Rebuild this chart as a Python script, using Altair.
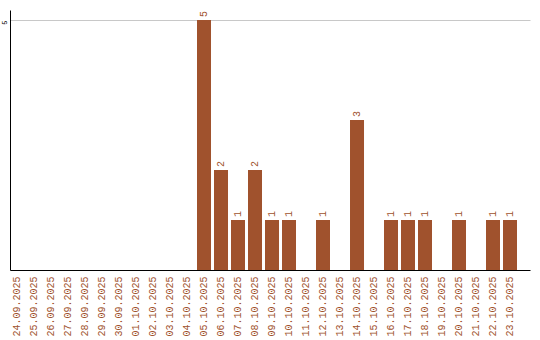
import altair as alt
import pandas as pd

dates = ["24.09.2025", "25.09.2025", "26.09.2025", "27.09.2025", "28.09.2025",
         "29.09.2025", "30.09.2025", "01.10.2025", "02.10.2025", "03.10.2025",
         "04.10.2025", "05.10.2025", "06.10.2025", "07.10.2025", "08.10.2025",
         "09.10.2025", "10.10.2025", "11.10.2025", "12.10.2025", "13.10.2025",
         "14.10.2025", "15.10.2025", "16.10.2025", "17.10.2025", "18.10.2025",
         "19.10.2025", "20.10.2025", "21.10.2025", "22.10.2025", "23.10.2025"]
counts = [0, 0, 0, 0, 0, 0, 0, 0, 0, 0,
          0, 5, 2, 1, 2, 1, 1, 0, 1, 0,
          3, 0, 1, 1, 1, 0, 1, 0, 1, 1]

df = pd.DataFrame({"date": dates, "count": counts})

COLOR = "#a0522d"
FONT = "Liberation Mono"

x = alt.X("date:N", sort=dates, title=None,
          scale=alt.Scale(paddingInner=3 / 17, paddingOuter=0.382, align=0),
          axis=alt.Axis(labelAngle=270, labelAlign="right", labelBaseline="middle",
                        labelColor=COLOR, labelFont=FONT, labelFontSize=10,
                        labelPadding=6, ticks=False, domainColor="black",
                        domainWidth=1, grid=False, labelOverlap=False))
y = alt.Y("count:Q", title=None,
          scale=alt.Scale(domain=[0, 5.2], nice=False, zero=True),
          axis=alt.Axis(values=[5], labelAngle=270, labelAlign="right",
                        labelBaseline="alphabetic", labelPadding=4, labelColor="black",
                        labelFont=FONT, labelFontSize=7, ticks=False,
                        domainColor="black", domainWidth=1, grid=True,
                        gridColor="#c8c8c8", gridWidth=1))

bars = alt.Chart(df).mark_bar(color=COLOR).encode(x=x, y=y)
labels = alt.Chart(df).transform_filter("datum.count > 0").mark_text(
    angle=270, align="left", baseline="middle", dx=3,
    font=FONT, fontSize=10, color=COLOR
).encode(x=alt.X("date:N", sort=dates), y="count:Q", text="count:Q")

chart = (bars + labels).properties(
    width=520, height=260,
    autosize=alt.AutoSizeParams(type="none"),
    padding={"left": 10, "top": 10, "right": 10, "bottom": 70},
    background="white",
).configure_view(stroke=None)

chart.save("out.html", embed_options={"renderer": "svg", "actions": False})
